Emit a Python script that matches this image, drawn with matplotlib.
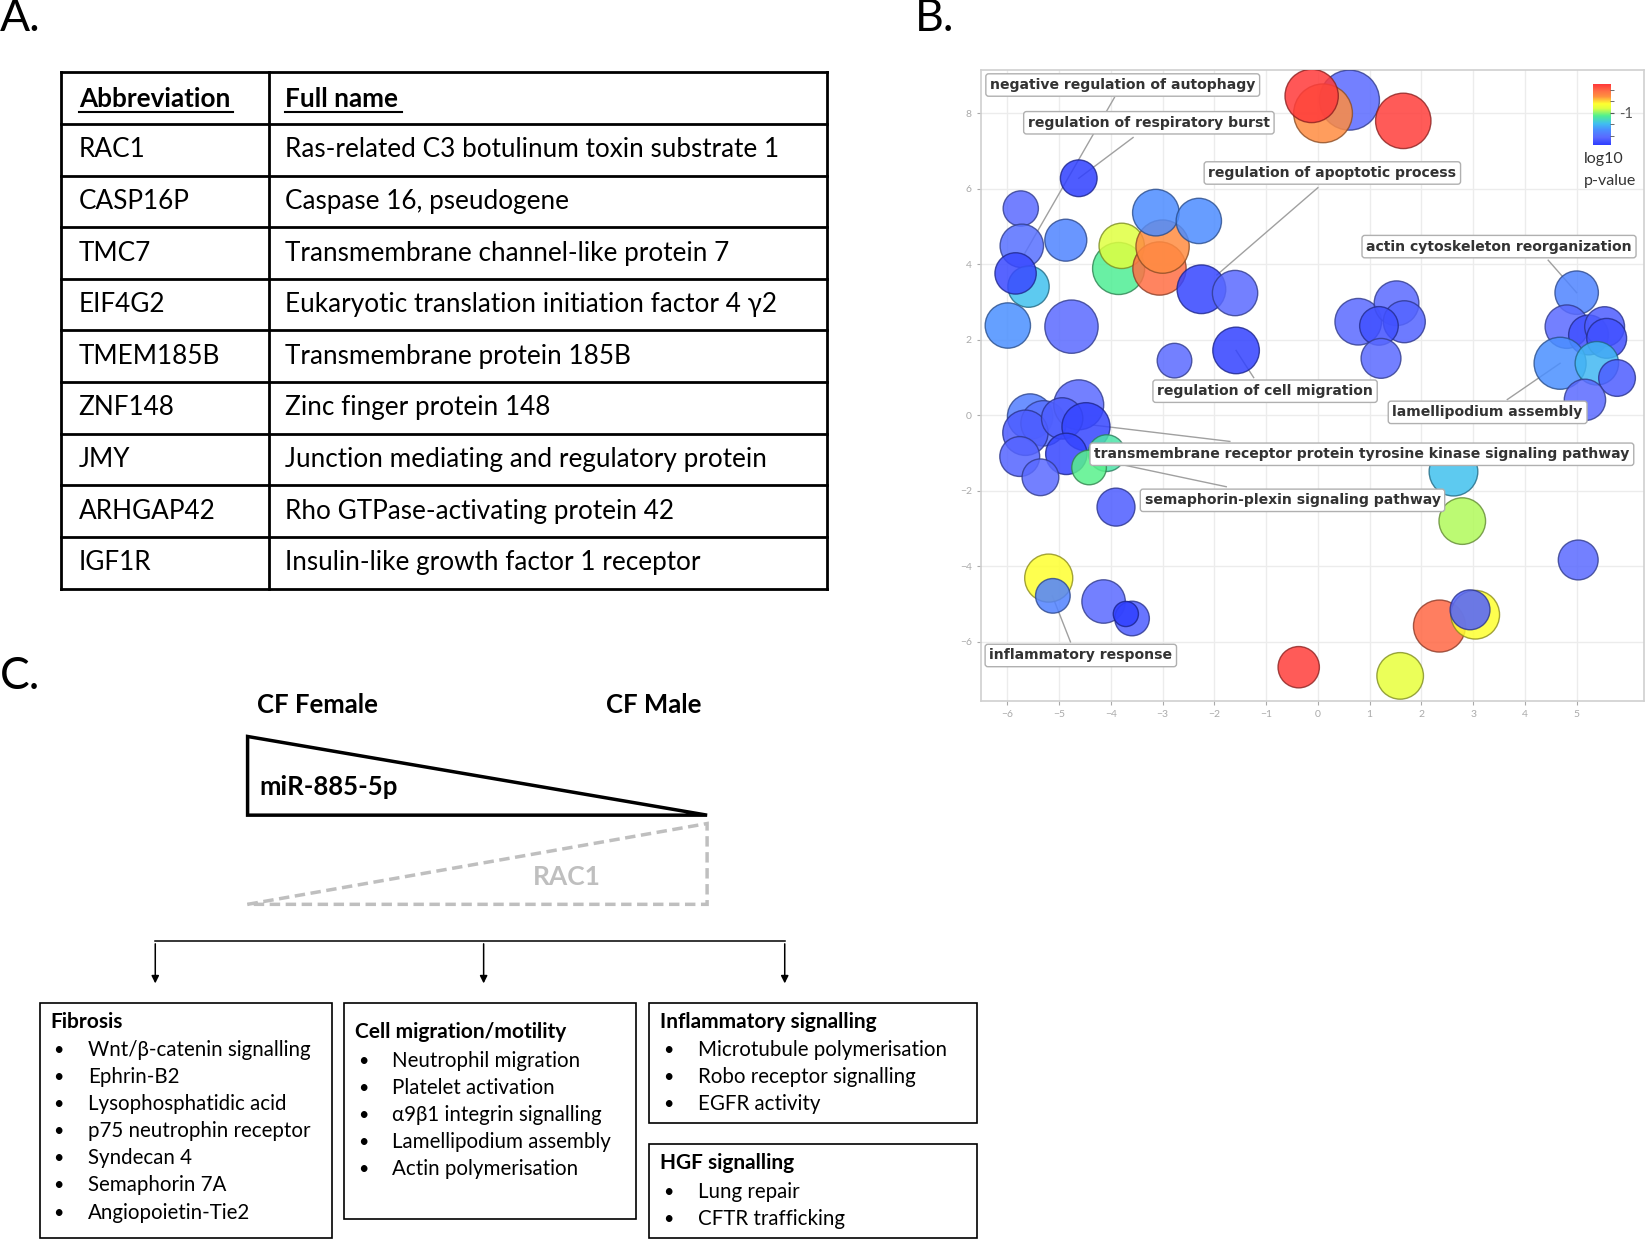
import numpy as np
import matplotlib.pyplot as plt
from matplotlib.colors import LinearSegmentedColormap, Normalize
from matplotlib.patches import Rectangle, Polygon

plt.rcParams['font.family'] = ['Lato', 'DejaVu Sans']

# ---------------- data ----------------
# panel A
abbreviations = ["RAC1", "CASP16P", "TMC7", "EIF4G2", "TMEM185B",
                 "ZNF148", "JMY", "ARHGAP42", "IGF1R"]
full_names = ["Ras-related C3 botulinum toxin substrate 1",
              "Caspase 16, pseudogene",
              "Transmembrane channel-like protein 7",
              "Eukaryotic translation initiation factor 4 \u03b32",
              "Transmembrane protein 185B",
              "Zinc finger protein 148",
              "Junction mediating and regulatory protein",
              "Rho GTPase-activating protein 42",
              "Insulin-like growth factor 1 receptor"]

# panel B (REVIGO semantic space)
go_x = [-4.62, -5.74, -5.72, -5.59, -5.84, -5.99, -4.87, -4.76, -3.85, -3.79,
        -3.06, -3.00, -3.13, -2.30, -2.25, -1.60, -2.77, -1.58,
        0.61, 0.10, -0.12, 1.65,
        0.78, 1.52, 1.67, 1.18, 1.22,
        5.00, 4.81, 5.23, 5.54, 5.58, 4.68, 5.39, 5.78, 5.16,
        2.62, 2.79, 5.03, 2.35, 3.04, 2.94, 1.59, -0.37,
        -5.56, -5.30, -4.62, -5.65, -4.94, -4.48, -5.76, -4.86, -5.36,
        -4.08, -4.42, -3.90, -5.20, -5.12, -4.14, -3.59, -3.71]
go_y = [6.28, 5.48, 4.49, 3.41, 3.76, 2.38, 4.64, 2.35, 3.89, 4.49,
        3.89, 4.47, 5.37, 5.15, 3.34, 3.24, 1.45, 1.72,
        8.35, 8.00, 8.46, 7.80,
        2.48, 2.97, 2.48, 2.37, 1.51,
        3.25, 2.35, 2.13, 2.35, 2.04, 1.38, 1.38, 0.99, 0.41,
        -1.49, -2.80, -3.83, -5.58, -5.28, -5.15, -6.90, -6.67,
        -0.03, -0.21, 0.28, -0.46, -0.08, -0.30, -1.09, -1.02, -1.64,
        -1.00, -1.38, -2.43, -4.31, -4.78, -4.93, -5.38, -5.26]
go_radius = [17.5, 16.8, 20.7, 19.7, 19.7, 21.6, 20.0, 25.4, 24.8, 21.6,
             25.4, 25.4, 22.2, 21.6, 23.2, 21.6, 16.5, 22.2,
             28.6, 28.0, 25.4, 26.4,
             22.2, 21.3, 20.0, 18.4, 19.0,
             20.7, 20.7, 19.0, 19.0, 19.0, 24.8, 20.7, 17.5, 19.7,
             23.2, 22.2, 19.0, 24.8, 23.2, 19.0, 22.2, 19.7,
             21.6, 21.6, 23.8, 21.6, 19.7, 22.9, 19.0, 19.7, 17.5,
             17.5, 16.5, 18.1, 22.9, 16.5, 20.7, 16.5, 12.0]
go_log10p = [-1.55, -1.42, -1.40, -1.18, -1.52, -1.29, -1.33, -1.42, -1.05, -0.92,
             -0.62, -0.70, -1.30, -1.30, -1.53, -1.42, -1.42, -1.54,
             -1.42, -0.70, -0.50, -0.51,
             -1.42, -1.42, -1.44, -1.50, -1.42,
             -1.33, -1.42, -1.50, -1.46, -1.50, -1.29, -1.20, -1.46, -1.42,
             -1.18, -0.96, -1.42, -0.60, -0.84, -1.45, -0.90, -0.51,
             -1.35, -1.40, -1.42, -1.46, -1.46, -1.53, -1.44, -1.53, -1.42,
             -1.08, -1.04, -1.46, -0.84, -1.34, -1.42, -1.46, -1.55]
go_terms = ["negative regulation of autophagy",
            "regulation of respiratory burst",
            "regulation of apoptotic process",
            "actin cytoskeleton reorganization",
            "regulation of cell migration",
            "lamellipodium assembly",
            "transmembrane receptor protein tyrosine kinase signaling pathway",
            "semaphorin-plexin signaling pathway",
            "inflammatory response"]
# label box centre, leader start, leader end (data units)
term_pos = [(-3.77, 8.75), (-3.265, 7.75), (0.28, 6.42), (3.50, 4.47), (-1.02, 0.64),
            (3.28, 0.08), (0.85, -1.03), (-0.49, -2.25), (-4.58, -6.36)]
term_line = [((-3.93, 8.42), (-5.68, 4.25)), ((-3.57, 7.36), (-4.62, 6.28)),
             ((0.0, 6.03), (-1.95, 3.72)), ((4.45, 4.11), (5.0, 3.25)),
             ((-1.24, 1.0), (-1.58, 1.72)), ((3.66, 0.42), (4.68, 1.38)),
             ((-1.70, -0.69), (-4.38, -0.25)), ((-1.77, -1.89), (-4.08, -1.22)),
             ((-4.78, -6.0), (-5.13, -4.78))]

# panel C
box_titles = ["Fibrosis", "Cell migration/motility", "Inflammatory signalling", "HGF signalling"]
box_items = [["Wnt/\u03b2-catenin signalling", "Ephrin-B2", "Lysophosphatidic acid",
              "p75 neutrophin receptor", "Syndecan 4", "Semaphorin 7A", "Angiopoietin-Tie2"],
             ["Neutrophil migration", "Platelet activation", "\u03b19\u03b21 integrin signalling",
              "Lamellipodium assembly", "Actin polymerisation"],
             ["Microtubule polymerisation", "Robo receptor signalling", "EGFR activity"],
             ["Lung repair", "CFTR trafficking"]]

# ---------------- figure ----------------
W, H = 1568, 1181
fig = plt.figure(figsize=(16.45, 12.39), dpi=100)
cv = fig.add_axes([0, 0, 1, 1])
cv.set_xlim(0, W)
cv.set_ylim(H, 0)
cv.axis('off')
cv.set_zorder(5)

for lab, (px, py) in zip(["A.", "B.", "C."], [(0, 18), (872, 18), (0, 645)]):
    cv.text(px, py, lab, fontsize=32, va='center', ha='left')

# ---- panel A: table ----
tl, tr, tm = 58, 788, 256
rows = [69 + i * 49.2 for i in range(11)]
for y in rows:
    cv.plot([tl, tr], [y, y], color='black', lw=2)
for x in [tl, tm, tr]:
    cv.plot([x, x], [rows[0], rows[-1]], color='black', lw=2)
cv.text(75, 94, "Abbreviation", fontsize=18.8, fontweight='bold', va='center')
cv.text(272, 94, "Full name", fontsize=18.8, fontweight='bold', va='center')
cv.plot([75, 222], [107, 107], color='black', lw=1.5)
cv.plot([272, 383], [107, 107], color='black', lw=1.5)
for i, (ab, fn) in enumerate(zip(abbreviations, full_names)):
    yc = (rows[i + 1] + rows[i + 2]) / 2
    cv.text(75, yc, ab, fontsize=18.8, va='center')
    cv.text(272, yc, fn, fontsize=18.8, va='center')

# ---- panel C ----
cv.text(245, 672, "CF Female", fontsize=18.5, fontweight='bold', va='center')
cv.text(578, 672, "CF Male", fontsize=18.5, fontweight='bold', va='center')
cv.add_patch(Polygon([[236, 702], [236, 777], [674, 777]], closed=True,
                     fill=False, ec='black', lw=2.5, joinstyle='miter'))
cv.text(247, 750, "miR-885-5p", fontsize=18.5, fontweight='bold', va='center')
cv.add_patch(Polygon([[236, 862], [674, 785], [674, 862]], closed=True,
                     fill=False, ec='#bfbfbf', lw=2.5, linestyle=(0, (3, 1.6))))
cv.text(508, 836, "RAC1", fontsize=19, fontweight='bold', color='#bfbfbf', va='center')

cv.plot([148, 748], [897, 897], color='black', lw=1.1)
for x in [148, 461, 748]:
    cv.annotate('', xy=(x, 940), xytext=(x, 897),
                arrowprops=dict(arrowstyle='-|>', color='black', lw=1.1, mutation_scale=11))

boxes = [(38, 956, 316, 1180), (328, 956, 606, 1162), (619, 956, 931, 1070), (619, 1090, 931, 1180)]
title_y = [974, 984, 974, 1109]
for (x0, y0, x1, y1), title, items, ty in zip(boxes, box_titles, box_items, title_y):
    cv.add_patch(Rectangle((x0, y0), x1 - x0, y1 - y0, fill=False, ec='black', lw=1.2))
    cv.text(x0 + 10, ty, title, fontsize=15, fontweight='bold', va='center')
    for j, it in enumerate(items):
        yy = ty + 27 + j * 25.8
        cv.text(x0 + 13, yy, "\u2022", fontsize=13, va='center')
        cv.text(x0 + 46, yy, it, fontsize=14.8, va='center')

# ---- panel B: REVIGO scatter ----
x0p, x1p, y0p, y1p = 935, 1567, 67, 668
axb = fig.add_axes([x0p / W, 1 - y1p / H, (x1p - x0p) / W, (y1p - y0p) / H])
axb.set_xlim(-6.51, 6.30)
axb.set_ylim(-7.56, 9.14)
axb.set_xticks(range(-6, 6))
axb.set_yticks(range(-6, 9, 2))
axb.grid(True, color='#ececec', lw=1)
axb.set_axisbelow(True)
axb.tick_params(labelsize=7.5, colors='#aaaaaa', length=3, width=0.8)
for sp in axb.spines.values():
    sp.set_color('#d0d0d0')
    sp.set_linewidth(1.2)

cmap = LinearSegmentedColormap.from_list('revigo', [
    (0.00, '#2f3fff'), (0.12, '#5a6aff'), (0.25, '#4a90ff'), (0.35, '#40c0f0'),
    (0.48, '#50f090'), (0.60, '#e0ff40'), (0.68, '#ffff30'), (0.80, '#ff9040'),
    (0.90, '#ff6a45'), (1.00, '#ff3a3a')])
norm = Normalize(vmin=-1.55, vmax=-0.5)

for (sx, sy), (ex, ey) in term_line:
    axb.plot([sx, ex], [sy, ey], color='#a0a0a0', lw=1, zorder=2)

fc = cmap(norm(np.array(go_log10p)))
fc[:, 3] = 0.85
ec = fc.copy()
ec[:, :3] *= 0.55
ec[:, 3] = 0.8
scale = 1645 / W * 0.72
sizes = (2 * np.array(go_radius) * scale) ** 2
axb.scatter(go_x, go_y, s=sizes, c=fc, edgecolors=ec, linewidths=1, zorder=3)

for term, (tx, ty) in zip(go_terms, term_pos):
    axb.text(tx, ty, term, fontsize=10.1, fontweight='bold', color='#333333',
             family='DejaVu Sans', ha='center', va='center', zorder=5,
             bbox=dict(boxstyle='round,pad=0.3,rounding_size=0.2', fc='white',
                       ec='#b0b0b0', lw=1))

# colour bar legend
cax = fig.add_axes([1518 / W, 1 - 138 / H, 17 / W, 58 / H])
grad = np.linspace(-1.55, -0.5, 100).reshape(-1, 1)
cax.imshow(grad, cmap=cmap, norm=norm, aspect='auto', origin='lower',
           extent=[0, 1, -1.55, -0.5])
cax.set_xticks([])
cax.yaxis.tick_right()
cax.set_yticks([-1])
cax.set_yticklabels(['-1'])
cax.set_yticks([-1.4, -1.2, -0.8, -0.6], minor=True)
cax.tick_params(axis='y', which='both', length=3, colors='#555555', labelsize=10.5)
for sp in cax.spines.values():
    sp.set_visible(False)
cv.text(1510, 152, "log10", fontsize=11.5, color='#333333', va='center')
cv.text(1510, 173, "p-value", fontsize=11.5, color='#333333', va='center')

fig.savefig("out.png", dpi=100)
